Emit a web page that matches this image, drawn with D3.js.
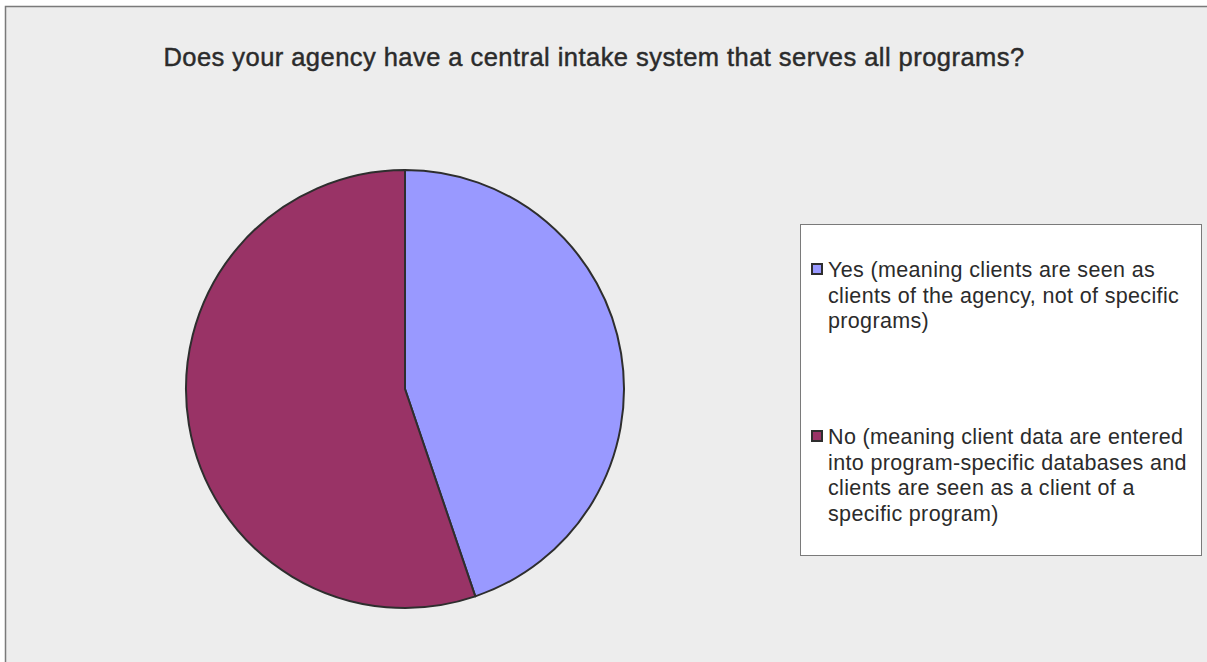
<!DOCTYPE html>
<html>
<head>
<meta charset="utf-8">
<script src="https://cdn.jsdelivr.net/npm/d3@7"></script>
<style>
  html, body { margin: 0; padding: 0; background: #ffffff; }
  svg { display: block; }
  text { font-family: "Liberation Sans", Arial, sans-serif; fill: #2b2b2b; }
</style>
</head>
<body>
<svg id="chart" width="1207" height="662"></svg>
<script>
// Survey responses (share of agencies, %)
const categories = ["Yes", "No"];
const values = [44.8, 55.2];
const legendLabels = [
  ["Yes (meaning clients are seen as", "clients of the agency, not of specific", "programs)"],
  ["No (meaning client data are entered", "into program-specific databases and", "clients are seen as a client of a", "specific program)"]
];
const colors = ["#9999FF", "#993366"];
const title = "Does your agency have a central intake system that serves all programs?";

const svg = d3.select("#chart");
const W = 1207, H = 662;

// chart area background + frame
svg.append("rect")
  .attr("x", 5.5).attr("y", 6.5)
  .attr("width", W + 10).attr("height", H + 10)
  .attr("fill", "#ededed")
  .attr("stroke", "#7a7a7a")
  .attr("stroke-width", 1.5);

svg.append("text")
  .attr("x", 594).attr("y", 66)
  .attr("text-anchor", "middle")
  .attr("font-size", 25.5)
  .attr("letter-spacing", 0.45)
  .attr("stroke", "#2b2b2b")
  .attr("stroke-width", 0.45)
  .text(title);

// pie
const cx = 405, cy = 389, r = 219;
const pie = d3.pie().sort(null).value(d => d.value);
const arc = d3.arc().innerRadius(0).outerRadius(r);
const data = categories.map((c, i) => ({ cat: c, value: values[i] }));

svg.append("g")
  .attr("transform", `translate(${cx},${cy})`)
  .selectAll("path")
  .data(pie(data))
  .join("path")
  .attr("d", arc)
  .attr("fill", (d, i) => colors[i])
  .attr("stroke", "#2e2e2e")
  .attr("stroke-width", 2)
  .attr("stroke-linejoin", "round");

// legend
const lg = svg.append("g");
lg.append("rect")
  .attr("x", 800.5).attr("y", 224.5)
  .attr("width", 401).attr("height", 331)
  .attr("fill", "#ffffff")
  .attr("stroke", "#7a7a7a")
  .attr("stroke-width", 1);

const itemTop = [277, 444];
const lineH = 25.5;
categories.forEach((c, i) => {
  lg.append("rect")
    .attr("x", 812).attr("y", itemTop[i] - 13)
    .attr("width", 10).attr("height", 10)
    .attr("fill", colors[i])
    .attr("stroke", "#2e2e2e")
    .attr("stroke-width", 2);
  const t = lg.append("text")
    .attr("font-size", 21.5)
    .attr("letter-spacing", 0.35);
  legendLabels[i].forEach((line, j) => {
    t.append("tspan")
      .attr("x", 828)
      .attr("y", itemTop[i] + j * lineH)
      .text(line);
  });
});
</script>
</body>
</html>
